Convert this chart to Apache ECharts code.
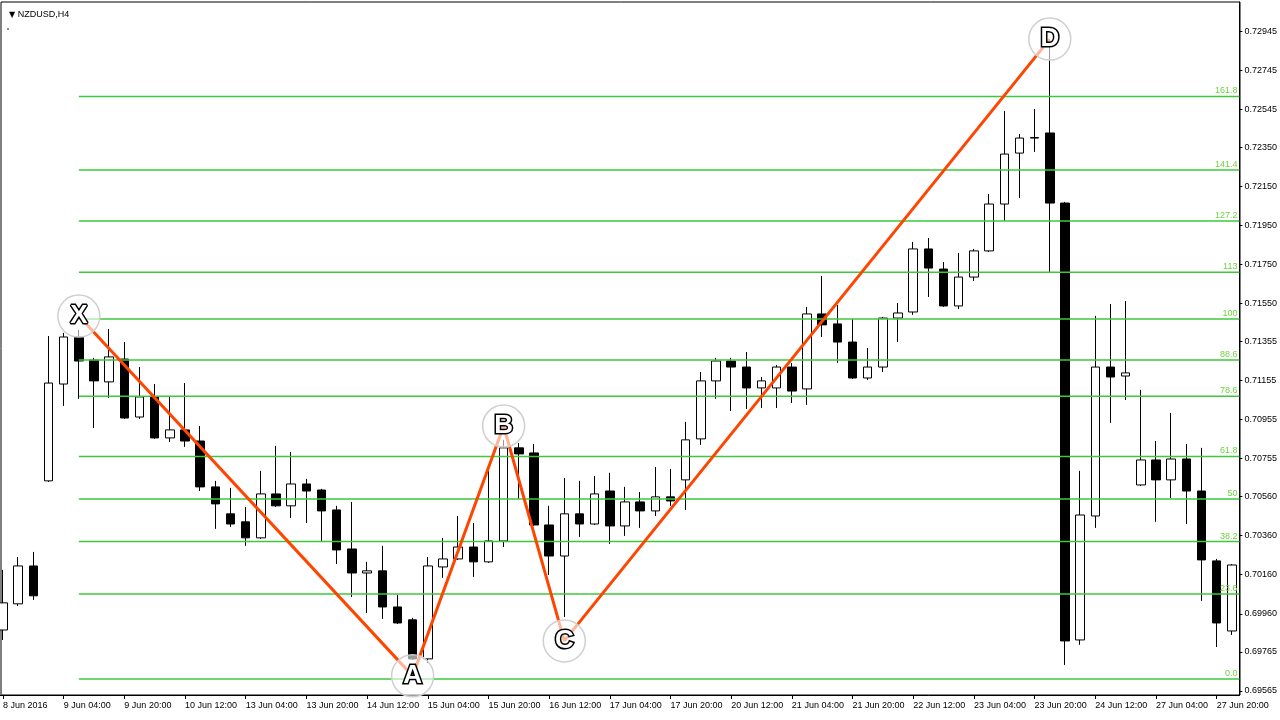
<!DOCTYPE html>
<html><head><meta charset="utf-8">
<script src="https://cdn.jsdelivr.net/npm/echarts/dist/echarts.min.js"></script>
<style>html,body{margin:0;padding:0;background:#fff;overflow:hidden}#wrap{position:relative;width:1280px;height:720px;overflow:hidden}#c{position:absolute;left:-5px;top:0;width:1285px;height:720px}</style>
</head><body><div id="wrap"><div id="c"></div></div>
<script>
const categories = [
 '2016-06-08 12:00','2016-06-08 16:00','2016-06-08 20:00',
 '2016-06-09 00:00','2016-06-09 04:00','2016-06-09 08:00','2016-06-09 12:00','2016-06-09 16:00','2016-06-09 20:00',
 '2016-06-10 00:00','2016-06-10 04:00','2016-06-10 08:00','2016-06-10 12:00','2016-06-10 16:00','2016-06-10 20:00',
 '2016-06-13 00:00','2016-06-13 04:00','2016-06-13 08:00','2016-06-13 12:00','2016-06-13 16:00','2016-06-13 20:00',
 '2016-06-14 00:00','2016-06-14 04:00','2016-06-14 08:00','2016-06-14 12:00','2016-06-14 16:00','2016-06-14 20:00',
 '2016-06-15 00:00','2016-06-15 04:00','2016-06-15 08:00','2016-06-15 12:00','2016-06-15 16:00','2016-06-15 20:00',
 '2016-06-16 00:00','2016-06-16 04:00','2016-06-16 08:00','2016-06-16 12:00','2016-06-16 16:00','2016-06-16 20:00',
 '2016-06-17 00:00','2016-06-17 04:00','2016-06-17 08:00','2016-06-17 12:00','2016-06-17 16:00','2016-06-17 20:00',
 '2016-06-20 00:00','2016-06-20 04:00','2016-06-20 08:00','2016-06-20 12:00','2016-06-20 16:00','2016-06-20 20:00',
 '2016-06-21 00:00','2016-06-21 04:00','2016-06-21 08:00','2016-06-21 12:00','2016-06-21 16:00','2016-06-21 20:00',
 '2016-06-22 00:00','2016-06-22 04:00','2016-06-22 08:00','2016-06-22 12:00','2016-06-22 16:00','2016-06-22 20:00',
 '2016-06-23 00:00','2016-06-23 04:00','2016-06-23 08:00','2016-06-23 12:00','2016-06-23 16:00','2016-06-23 20:00',
 '2016-06-24 00:00','2016-06-24 04:00','2016-06-24 08:00','2016-06-24 12:00','2016-06-24 16:00','2016-06-24 20:00',
 '2016-06-27 00:00','2016-06-27 04:00','2016-06-27 08:00','2016-06-27 12:00','2016-06-27 16:00','2016-06-27 20:00',
 '2016-06-28 00:00'
];
const opens = [
 0.69877,0.70011,0.70205,0.70641,0.71137,0.71378,0.71260,0.71148,0.71265,0.70968,
 0.71071,0.70861,0.70902,0.70845,0.70610,0.70472,0.70431,0.70349,0.70574,0.70513,
 0.70625,0.70594,0.70492,0.70292,0.70169,0.70180,0.69995,0.69929,0.69729,0.70200,
 0.70241,0.70302,0.70226,0.70333,0.70810,0.70784,0.70415,0.70256,0.70472,0.70420,
 0.70589,0.70410,0.70533,0.70487,0.70559,0.70646,0.70856,0.71153,0.71255,0.71224,
 0.71117,0.71117,0.71224,0.71112,0.71496,0.71445,0.71352,0.71168,0.71224,0.71475,
 0.71506,0.71829,0.71726,0.71537,0.71685,0.71819,0.72059,0.72320,0.72397,0.72423,
 0.72064,0.69826,0.70461,0.71224,0.71178,0.70620,0.70748,0.70646,0.70753,0.70589,
 0.70231,0.69872
];
const closes = [
 0.70016,0.70205,0.70052,0.71142,0.71378,0.71255,0.71153,0.71276,0.70963,0.71071,
 0.70861,0.70902,0.70845,0.70610,0.70523,0.70420,0.70349,0.70574,0.70513,0.70625,
 0.70589,0.70487,0.70287,0.70169,0.70180,0.69995,0.69913,0.69729,0.70205,0.70241,
 0.70302,0.70226,0.70333,0.70810,0.70779,0.70415,0.70256,0.70472,0.70420,0.70574,
 0.70410,0.70533,0.70487,0.70559,0.70538,0.70851,0.71153,0.71255,0.71224,0.71117,
 0.71153,0.71224,0.71101,0.71496,0.71440,0.71352,0.71168,0.71224,0.71475,0.71501,
 0.71829,0.71731,0.71537,0.71685,0.71819,0.72059,0.72315,0.72397,0.72400,0.72064,
 0.69821,0.70466,0.71224,0.71173,0.71194,0.70748,0.70646,0.70753,0.70589,0.70236,
 0.69913,0.70210
];
const lows = [
 0.69826,0.70000,0.70031,0.70635,0.71025,0.71061,0.70912,0.71066,0.70958,0.70958,
 0.70856,0.70840,0.70815,0.70589,0.70395,0.70405,0.70308,0.70344,0.70507,0.70451,
 0.70425,0.70333,0.70215,0.70046,0.69964,0.69934,0.69908,0.69724,0.69708,0.70144,
 0.70236,0.70149,0.70221,0.70302,0.70548,0.70410,0.70159,0.69944,0.70354,0.70415,
 0.70318,0.70359,0.70400,0.70461,0.70513,0.70492,0.70825,0.71061,0.70999,0.71009,
 0.71014,0.71014,0.71040,0.71030,0.71378,0.71245,0.71163,0.71158,0.71199,0.71352,
 0.71491,0.71583,0.71532,0.71521,0.71665,0.71813,0.71972,0.72090,0.72326,0.71706,
 0.69698,0.69801,0.70400,0.70938,0.71055,0.70615,0.70431,0.70553,0.70420,0.70026,
 0.69790,0.69852
];
const highs = [
 0.70185,0.70251,0.70277,0.71383,0.71399,0.71414,0.71271,0.71419,0.71352,0.71224,
 0.71137,0.71071,0.71142,0.70922,0.70641,0.70605,0.70507,0.70692,0.70820,0.70789,
 0.70651,0.70600,0.70513,0.70533,0.70226,0.70308,0.70057,0.69939,0.70251,0.70349,
 0.70461,0.70425,0.70692,0.70851,0.70835,0.70830,0.70513,0.70656,0.70641,0.70666,
 0.70682,0.70610,0.70584,0.70712,0.70702,0.70943,0.71199,0.71271,0.71271,0.71301,
 0.71173,0.71235,0.71245,0.71532,0.71690,0.71542,0.71470,0.71322,0.71481,0.71552,
 0.71865,0.71885,0.71762,0.71808,0.71829,0.72110,0.72536,0.72418,0.72546,0.72874,
 0.72070,0.70692,0.71486,0.71547,0.71562,0.71107,0.70845,0.70989,0.70830,0.70810,
 0.70241,0.70215
];
const priceTicks = [0.69565,0.69765,0.69960,0.70160,0.70360,0.70560,0.70755,0.70955,0.71155,
 0.71355,0.71550,0.71750,0.71950,0.72150,0.72350,0.72545,0.72745,0.72945];
const fibLabels = ['0.0','23.6','38.2','50','61.8','78.6','88.6','100','113','127.2','141.4','161.8'];
const fibPrices = [0.69626,0.70061,0.70330,0.70548,0.70766,0.71075,0.71260,0.71470,0.71710,0.71972,0.72233,0.72610];
const fibStartIndex = 5;
const patternLabels = ['X','A','B','C','D'];
const patternIndex = [5,27,33,37,69];
const patternPrices = [0.71485,0.69642,0.70922,0.69821,0.72904];

const MON = ['Jan','Feb','Mar','Apr','May','Jun','Jul','Aug','Sep','Oct','Nov','Dec'];
function fmtDate(s, i) {
  const y = s.slice(0,4), m = MON[+s.slice(5,7)-1], d = +s.slice(8,10), t = s.slice(11);
  return i === 0 ? d + ' ' + m + ' ' + y : d + ' ' + m + ' ' + t;
}
const showTick = (i) => i === 0 || i % 4 === 0;
const N = categories.length;
const font = 'Liberation Sans, Arial, sans-serif';
const SHIFT = 5; // the chart div starts 5px left of the page

const candleData = categories.map((c, i) => [opens[i], closes[i], lows[i], highs[i]]);

const fibSeries = fibPrices.map((p, k) => ({
  type: 'line', xAxisIndex: 1, yAxisIndex: 0, silent: true, animation: false, z: 3,
  symbol: 'circle', symbolSize: 0, showSymbol: true,
  lineStyle: { color: '#3cc83c', width: 1.5 },
  itemStyle: { color: '#3cc83c' },
  data: [
    [fibStartIndex, p],
    { value: [N - 0.5, p], label: { show: true, formatter: fibLabels[k], position: 'top', align: 'right',
      distance: 1, offset: [-2, 0], color: '#6ed43c', fontSize: 9, fontFamily: font } }
  ]
}));

const chart = echarts.init(document.getElementById('c'), null, { renderer: 'canvas' });
chart.setOption({
  backgroundColor: '#fff',
  animation: false,
  grid: { left: 0.41, right: 40.6, top: 2, bottom: 25, containLabel: false },
  title: {
    text: '{a|▼} NZDUSD,H4', left: 4 + SHIFT, top: 5,
    textStyle: { fontSize: 9, fontWeight: 'normal', color: '#000', fontFamily: font,
      rich: { a: { fontSize: 8, color: '#000', fontFamily: 'DejaVu Sans' } } }
  },
  graphic: [
    { type: 'rect', shape: { x: 1 + SHIFT, y: 2, width: 1239, height: 693 }, style: { fill: 'none', stroke: '#000', lineWidth: 1 }, silent: true, z: 0 },
    { type: 'circle', shape: { cx: 8 + SHIFT, cy: 29, r: 0.8 }, style: { fill: '#000' }, silent: true }
  ],
  xAxis: [
    {
      type: 'category', data: categories, boundaryGap: true, position: 'bottom',
      axisLine: { show: true, onZero: false, lineStyle: { color: '#000', width: 1 } },
      axisTick: { show: true, alignWithLabel: true, interval: (i) => showTick(i), length: 4, lineStyle: { color: '#000' } },
      axisLabel: { show: true, interval: (i) => showTick(i), formatter: (v, i) => fmtDate(v, i),
        align: 'left', margin: 6, fontSize: 9, color: '#000', fontFamily: font },
      splitLine: { show: false }
    },
    { type: 'value', min: -0.5, max: N - 0.5, show: false }
  ],
  yAxis: {
    type: 'value', position: 'right', scale: true, min: 0.69544, max: 0.73094,
    axisLine: { show: true, onZero: false, lineStyle: { color: '#000', width: 1 } },
    axisTick: { show: true, customValues: priceTicks, length: 3, lineStyle: { color: '#000' } },
    axisLabel: { show: true, customValues: priceTicks, formatter: (v) => v.toFixed(5),
      fontSize: 9, color: '#000', margin: 5, fontFamily: font },
    splitLine: { show: false }
  },
  series: [
    {
      type: 'candlestick', xAxisIndex: 0, yAxisIndex: 0, data: candleData, barWidth: 9, z: 2, silent: true,
      itemStyle: { color: '#fff', color0: '#000', borderColor: '#000', borderColor0: '#000', borderWidth: 1 }
    },
    ...fibSeries,
    {
      type: 'line', xAxisIndex: 0, yAxisIndex: 0, z: 4, silent: true, symbol: 'none',
      lineStyle: { color: '#ff4500', width: 3 },
      data: patternIndex.map((x, k) => [x, patternPrices[k]])
    },
    {
      type: 'scatter', xAxisIndex: 0, yAxisIndex: 0, z: 5, silent: true,
      symbol: 'circle', symbolSize: 42,
      itemStyle: { color: 'rgba(255,255,255,0.6)', borderColor: '#cfcfcf', borderWidth: 1.5, opacity: 1 },
      label: { show: true, position: 'inside', formatter: (p) => patternLabels[p.dataIndex],
        fontSize: 26, fontWeight: 'bold', color: '#fff', textBorderColor: '#000', textBorderWidth: 3,
        fontFamily: font },
      data: patternIndex.map((x, k) => [x, patternPrices[k]])
    }
  ]
});
</script>
</body></html>
